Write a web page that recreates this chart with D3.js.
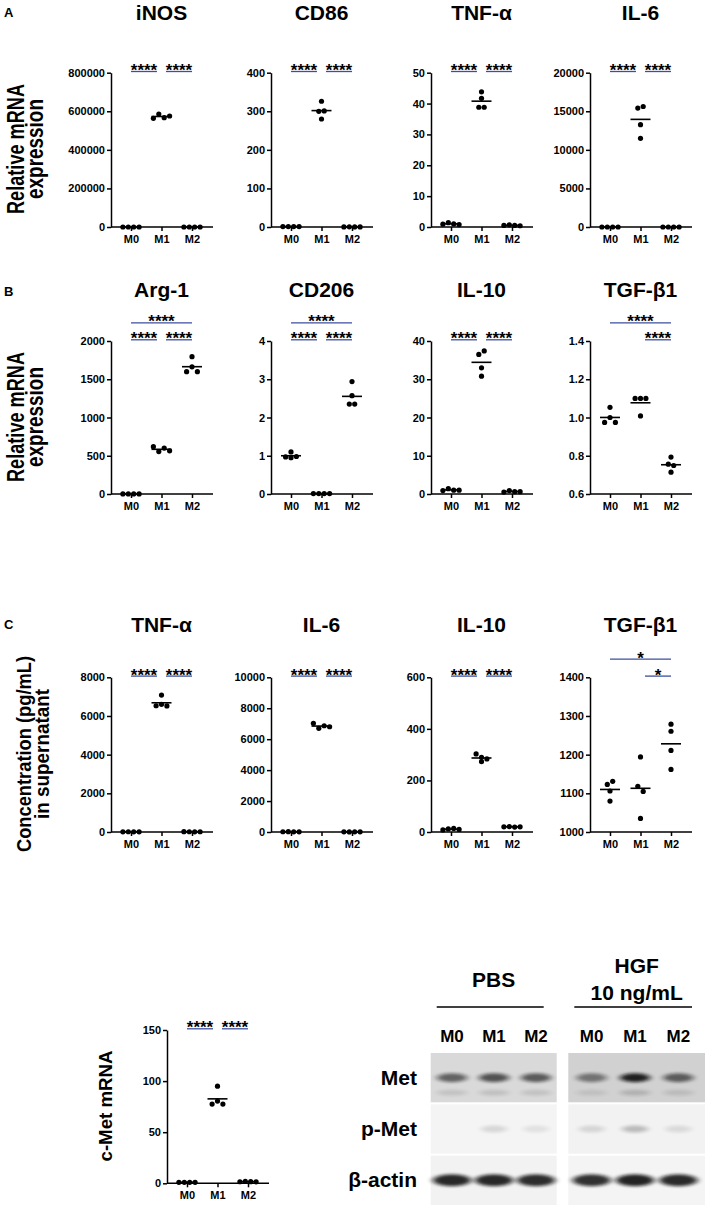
<!DOCTYPE html>
<html><head><meta charset="utf-8">
<script src="https://cdn.jsdelivr.net/npm/d3@7"></script>
<style>body{margin:0;background:#fff}</style>
</head><body><svg id="c" width="708" height="1209"></svg>
<script>
// ---------- data ----------
const groups = ["M0", "M1", "M2"];

// Row A: relative mRNA expression (M1 markers)
const iNOS = [[1, 1, 1, 1], [563600, 586000, 566700, 575500], [1, 1, 1, 1]];
const iNOS_ticks = [0, 200000, 400000, 600000, 800000];
const CD86 = [[1, 1, 1, 1], [326, 300, 301, 280], [0.3, 0.4, 0.3, 0.2]];
const CD86_ticks = [0, 100, 200, 300, 400];
const TNFa_mRNA = [[0.9, 1.4, 1.0, 0.8], [43.8, 41.7, 38.8, 38.8], [0.5, 0.7, 0.5, 0.4]];
const TNFa_mRNA_ticks = [0, 10, 20, 30, 40, 50];
const IL6_mRNA = [[1, 1, 1, 1], [15415, 15622, 13265, 11500], [1, 1, 1, 1]];
const IL6_mRNA_ticks = [0, 5000, 10000, 15000, 20000];

// Row B: relative mRNA expression (M2 markers)
const Arg1 = [[1, 1, 1, 1], [618, 554, 600, 565], [1795, 1599, 1663, 1599]];
const Arg1_ticks = [0, 500, 1000, 1500, 2000];
const CD206 = [[0.97, 1.10, 0.98, 0.95], [0.01, 0.01, 0.01, 0.01], [2.94, 2.57, 2.35, 2.35]];
const CD206_ticks = [0, 1, 2, 3, 4];
const IL10_mRNA = [[0.9, 1.4, 1.0, 1.0], [36.5, 37.4, 33.0, 30.8], [0.5, 0.9, 0.6, 0.6]];
const IL10_mRNA_ticks = [0, 10, 20, 30, 40];
const TGFb1_mRNA = [[1.053, 0.974, 1.0, 0.974], [1.1, 1.1, 1.1, 1.008], [0.793, 0.756, 0.749, 0.714]];
const TGFb1_mRNA_ticks = [0.6, 0.8, 1.0, 1.2, 1.4];

// Row C: concentration in supernatant (pg/mL)
const TNFa_prot = [[10, 12, 8, 10], [7080, 6530, 6600, 6520], [15, 12, 10, 14]];
const TNFa_prot_ticks = [0, 2000, 4000, 6000, 8000];
const IL6_prot = [[15, 20, 12, 10], [7022, 6699, 6867, 6802], [10, 8, 12, 9]];
const IL6_prot_ticks = [0, 2000, 4000, 6000, 8000, 10000];
const IL10_prot = [[8, 12, 14, 10], [302.7, 272.7, 289.5, 283.3], [20, 21, 19, 20]];
const IL10_prot_ticks = [0, 200, 400, 600];
const TGFb1_prot = [[1123, 1131, 1106, 1080], [1194, 1118, 1105, 1035], [1278.7, 1260.5, 1211, 1161.8]];
const TGFb1_prot_ticks = [1000, 1100, 1200, 1300, 1400];

// c-Met mRNA
const cMet = [[1, 1, 1, 1], [95, 77.5, 80.5, 77.5], [1.5, 1.8, 1.6, 1.4]];
const cMet_ticks = [0, 50, 100, 150];

// significance comparisons: [from, to, label, level]
const sigM1 = [[0, 1, "****", 0], [1, 2, "****", 0]];
const sigArg = [[0, 1, "****", 0], [1, 2, "****", 0], [0, 2, "****", 1]];
const sigTGFmRNA = [[1, 2, "****", 0], [0, 2, "****", 1]];
const sigTGFprot = [[1, 2, "*", 0], [0, 2, "*", 1]];

// Western blot
const blotGroups = ["PBS", "HGF"];
const blotGroupSub = ["", "10 ng/mL"];
const blotLanes = ["M0", "M1", "M2"];
const blotRows = ["Met", "p-Met", "β-actin"];
const blotBg = [[0.85, 0.82], [0.955, 0.95], [0.95, 0.955]];     // background lightness per row / group
const blotBand = [                                                // band darkness per row / group / lane
  [[0.58, 0.66, 0.62], [0.48, 0.90, 0.60]],
  [[0.0, 0.12, 0.08], [0.12, 0.24, 0.10]],
  [[0.88, 0.88, 0.86], [0.84, 0.90, 0.87]]
];

// ---------- drawing ----------
const FONT = '"Liberation Sans", Arial, Helvetica, sans-serif';
const SIG = "#3d4e9f";
const svg = d3.select("#c").attr("font-family", FONT);
svg.append("rect").attr("width", 708).attr("height", 1209).attr("fill", "#fff");

const fmtInt = d3.format("d");
const fmt1 = d3.format(".1f");

function swarm(vals, y, cx) {
  const d = 5.2, sp = 5.4;
  const idx = vals.map((v, i) => i).sort((a, b) => (y(vals[a]) - y(vals[b])) || (a - b));
  const rows = [];
  idx.forEach(i => {
    const py = y(vals[i]);
    const r = rows[rows.length - 1];
    if (r && Math.abs(py - r.y0) < d) r.items.push(i); else rows.push({ y0: py, items: [i] });
  });
  const out = [];
  rows.forEach(r => {
    r.items.sort((a, b) => a - b);
    const n = r.items.length;
    r.items.forEach((i, k) => out.push({ x: cx + (k - (n - 1) / 2) * sp, y: y(vals[i]) }));
  });
  return out;
}

function panel(p) {
  const y = d3.scaleLinear().domain(p.domain).range([p.y0, p.y1]);
  const x = d3.scalePoint().domain(groups).range([p.ax + 20, p.ax + 81]);
  const g = svg.append("g");
  if (p.title) {
    g.append("text").attr("x", x("M1")).attr("y", p.titleY).attr("text-anchor", "middle")
      .attr("font-size", 21).attr("font-weight", "bold").text(p.title);
  }
  const ya = g.append("g").attr("transform", `translate(${p.ax},0)`)
    .call(d3.axisLeft(y).tickValues(p.ticks).tickFormat(p.fmt || fmtInt).tickSize(4).tickPadding(2).tickSizeOuter(0));
  ya.attr("font-family", FONT).attr("font-size", 11).attr("font-weight", "bold");
  ya.selectAll("path,line").attr("stroke", "#000").attr("stroke-width", 1.5);
  ya.selectAll("text").attr("fill", "#000");
  g.append("line").attr("x1", p.ax).attr("x2", p.ax + 102).attr("y1", p.y0).attr("y2", p.y0)
    .attr("stroke", "#000").attr("stroke-width", 1.5);
  const xa = g.append("g").attr("transform", `translate(0,${p.y0})`)
    .call(d3.axisBottom(x).tickSize(4).tickPadding(4));
  xa.select(".domain").remove();
  xa.attr("font-family", FONT).attr("font-size", 11).attr("font-weight", "bold");
  xa.selectAll("line").attr("stroke", "#000").attr("stroke-width", 1.5);
  xa.selectAll("text").attr("fill", "#000");

  p.data.forEach((vals, gi) => {
    const cx = x(groups[gi]);
    swarm(vals, y, cx).forEach(pt => {
      g.append("circle").attr("cx", pt.x).attr("cy", pt.y).attr("r", 2.6).attr("fill", "#000");
    });
    const m = d3.mean(vals);
    g.append("line").attr("x1", cx - 10).attr("x2", cx + 10).attr("y1", y(m)).attr("y2", y(m))
      .attr("stroke", "#000").attr("stroke-width", 1.6);
  });

  const top = y(p.domain[1]);
  (p.sig || []).forEach(([a, b, lab, lvl]) => {
    const x1 = x(groups[a]) + (a === 1 ? 4.5 : 0);
    const x2 = x(groups[b]) - (b === 1 ? 4.5 : 0);
    const by = top - 1.2 - lvl * 17;
    g.append("text").attr("x", (x1 + x2) / 2).attr("y", by + 4.5).attr("text-anchor", "middle")
      .attr("font-size", 17).attr("font-weight", "bold").text(lab);
    g.append("line").attr("x1", x1).attr("x2", x2).attr("y1", by).attr("y2", by)
      .attr("stroke", SIG).attr("stroke-width", 1.3);
  });
}

const AX = [111, 271, 431, 590];
const rowA = { y0: 227, y1: 72.7, titleY: 20 };
const rowB = { y0: 494, y1: 341, titleY: 297 };
const rowC = { y0: 832, y1: 677.3, titleY: 632 };

panel({ ...rowA, ax: AX[0], title: "iNOS", data: iNOS, ticks: iNOS_ticks, domain: [0, 800000], sig: sigM1 });
panel({ ...rowA, ax: AX[1], title: "CD86", data: CD86, ticks: CD86_ticks, domain: [0, 400], sig: sigM1 });
panel({ ...rowA, ax: AX[2], title: "TNF-α", data: TNFa_mRNA, ticks: TNFa_mRNA_ticks, domain: [0, 50], sig: sigM1 });
panel({ ...rowA, ax: AX[3], title: "IL-6", data: IL6_mRNA, ticks: IL6_mRNA_ticks, domain: [0, 20000], sig: sigM1 });

panel({ ...rowB, ax: AX[0], title: "Arg-1", data: Arg1, ticks: Arg1_ticks, domain: [0, 2000], sig: sigArg });
panel({ ...rowB, ax: AX[1], title: "CD206", data: CD206, ticks: CD206_ticks, domain: [0, 4], sig: sigArg });
panel({ ...rowB, ax: AX[2], title: "IL-10", data: IL10_mRNA, ticks: IL10_mRNA_ticks, domain: [0, 40], sig: sigM1 });
panel({ ...rowB, ax: AX[3], title: "TGF-β1", data: TGFb1_mRNA, ticks: TGFb1_mRNA_ticks, domain: [0.6, 1.4], fmt: fmt1, sig: sigTGFmRNA });

panel({ ...rowC, ax: AX[0], title: "TNF-α", data: TNFa_prot, ticks: TNFa_prot_ticks, domain: [0, 8000], sig: sigM1 });
panel({ ...rowC, ax: AX[1], title: "IL-6", data: IL6_prot, ticks: IL6_prot_ticks, domain: [0, 10000], sig: sigM1 });
panel({ ...rowC, ax: AX[2], title: "IL-10", data: IL10_prot, ticks: IL10_prot_ticks, domain: [0, 600], sig: sigM1 });
panel({ ...rowC, ax: AX[3], title: "TGF-β1", data: TGFb1_prot, ticks: TGFb1_prot_ticks, domain: [1000, 1400], sig: sigTGFprot });

panel({ y0: 1183.3, y1: 1030, ax: 167, data: cMet, ticks: cMet_ticks, domain: [0, 150], sig: sigM1 });

// panel letters
[["A", 17], ["B", 296], ["C", 629]].forEach(([t, yy]) => {
  svg.append("text").attr("x", 4).attr("y", yy).attr("font-size", 13).attr("font-weight", "bold").text(t);
});

// y axis titles
function vtitle(lines, cy, xs, len, fs) {
  lines.forEach((t, i) => {
    svg.append("text").attr("transform", `translate(${xs[i]},${cy}) rotate(-90)`)
      .attr("text-anchor", "middle").attr("font-size", fs).attr("font-weight", "bold")
      .attr("textLength", len[i]).attr("lengthAdjust", "spacingAndGlyphs").text(t);
  });
}
vtitle(["Relative mRNA", "expression"], 149, [24, 43], [130, 100], 23);
vtitle(["Relative mRNA", "expression"], 417, [24, 43], [130, 100], 23);
vtitle(["Concentration (pg/mL)", "in supernatant"], 754, [31, 49], [196, 130], 20);
vtitle(["c-Met mRNA"], 1106, [112], [111], 19);

// ---------- western blot ----------
const defs = svg.append("defs");
defs.append("filter").attr("id", "blur").attr("x", "-50%").attr("y", "-100%").attr("width", "200%").attr("height", "300%")
  .append("feGaussianBlur").attr("stdDeviation", "3 1.8");

const gx = [d3.scaleBand().domain(blotLanes).range([431, 557]), d3.scaleBand().domain(blotLanes).range([570, 700])];
const boxX = [[430.7, 556.7], [568.3, 705]];
const rowY = d3.scaleBand().domain(blotRows).range([1053, 1205]).paddingInner(0.04);
const bandH = { "Met": 9, "p-Met": 7, "β-actin": 12 };
const bandW = { "Met": 30, "p-Met": 26, "β-actin": 38 };

blotGroups.forEach((grp, gi) => {
  const sc = gx[gi];
  const cx = (boxX[gi][0] + boxX[gi][1]) / 2;
  if (blotGroupSub[gi]) {
    svg.append("text").attr("x", cx).attr("y", 973).attr("text-anchor", "middle").attr("font-size", 21).attr("font-weight", "bold").text(grp);
    svg.append("text").attr("x", cx).attr("y", 1000).attr("text-anchor", "middle").attr("font-size", 21).attr("font-weight", "bold").text(blotGroupSub[gi]);
  } else {
    svg.append("text").attr("x", cx).attr("y", 987).attr("text-anchor", "middle").attr("font-size", 21).attr("font-weight", "bold").text(grp);
  }
  svg.append("line").attr("x1", boxX[gi][0] + 6).attr("x2", boxX[gi][1] - 13).attr("y1", 1007).attr("y2", 1007)
    .attr("stroke", "#000").attr("stroke-width", 1.5);
  blotLanes.forEach(l => {
    svg.append("text").attr("x", sc(l) + sc.bandwidth() / 2).attr("y", 1042).attr("text-anchor", "middle")
      .attr("font-size", 17).attr("font-weight", "bold").text(l);
  });
  blotRows.forEach((r, ri) => {
    const bg = blotBg[ri][gi];
    const y0 = rowY(r), h = rowY.bandwidth();
    svg.append("rect").attr("x", boxX[gi][0]).attr("y", y0).attr("width", boxX[gi][1] - boxX[gi][0]).attr("height", h)
      .attr("fill", d3.hsl(0, 0, bg).toString());
    blotLanes.forEach((l, li) => {
      const d = blotBand[ri][gi][li];
      if (d <= 0) return;
      const cxl = sc(l) + sc.bandwidth() / 2;
      const cy = y0 + h * 0.5;
      svg.append("ellipse").attr("cx", cxl).attr("cy", cy).attr("rx", bandW[r] / 2).attr("ry", bandH[r] / 2)
        .attr("fill", "#111").attr("opacity", d).attr("filter", "url(#blur)");
      if (r === "Met") {
        svg.append("ellipse").attr("cx", cxl).attr("cy", cy + 15).attr("rx", bandW[r] / 2).attr("ry", 3)
          .attr("fill", "#111").attr("opacity", d * 0.18).attr("filter", "url(#blur)");
      }
    });
  });
});
blotRows.forEach((r, ri) => {
  svg.append("text").attr("x", 417).attr("y", rowY(r) + rowY.bandwidth() / 2 + 7).attr("text-anchor", "end")
    .attr("font-size", 21).attr("font-weight", "bold").text(r);
});
</script>
</body></html>
